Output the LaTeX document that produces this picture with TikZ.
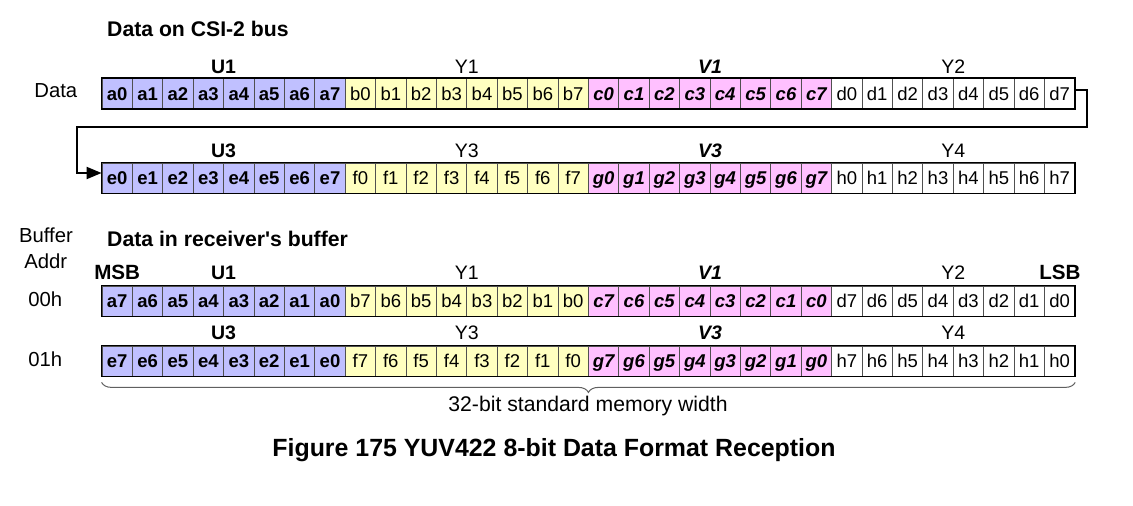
\documentclass[tikz,border=0pt]{standalone}
\usepackage{fontspec}
\setmainfont{Liberation Sans}
\newfontfamily\plainsans{Liberation Sans}
\usetikzlibrary{decorations.pathreplacing,arrows.meta,calc}
\definecolor{cU}{HTML}{C0C0FF}
\definecolor{cY}{HTML}{FFFFC0}
\definecolor{cV}{HTML}{FFC0FF}
\definecolor{cdiv}{HTML}{505050}
\definecolor{cbrace}{HTML}{606060}
\newcommand\csz{\fontsize{18.5}{20}\selectfont}
\newcommand\lsz{\fontsize{19.5}{22}\selectfont}
\tikzset{
  cell/.style={draw=cdiv, line width=0.8pt, minimum width=30.4pt, minimum height=30pt,
    inner sep=0pt, text height=13pt, text depth=0pt, anchor=center},
  grpU/.style={fill=cU, font=\csz\bfseries},
  grpY/.style={fill=cY, font=\csz},
  grpV/.style={fill=cV, font=\csz\bfseries\itshape},
  grpW/.style={fill=white, font=\csz},
  frame/.style={draw=black, line width=1.6pt},
  lbl/.style={inner sep=0pt, anchor=base},
  hdr/.style={inner sep=0pt, anchor=base west, font=\plainsans\fontsize{21.2}{23}\selectfont\bfseries},
  side/.style={inner sep=0pt, anchor=base, font=\fontsize{20.3}{22}\selectfont},
  labU/.style={lbl, font=\lsz\bfseries},
  labY/.style={lbl, font=\lsz},
  labV/.style={lbl, font=\lsz\bfseries\itshape},
  labE/.style={lbl, font=\fontsize{20.6}{22}\selectfont\bfseries},
  arrowline/.style={draw=black, line width=2pt, -{Triangle[length=15pt,width=12pt]}},
}
% #1 name, #2 y centre, #3..#6 letters, #7 reversed (1) or not (0)
\newcommand\mkrow[7]{%
  \foreach \g/\L/\sty in {0/#3/grpU,1/#4/grpY,2/#5/grpV,3/#6/grpW} {
    \foreach \k in {0,...,7} {
      \pgfmathtruncatemacro\idx{\g*8+\k}
      \pgfmathtruncatemacro\bit{#7==1 ? 7-\k : \k}
      \node[cell,\sty] (#1\idx) at ({117.2+30.4*\idx},#2) {\L\bit};
    }
  }
  \draw[frame] (#10.north west) rectangle (#131.south east);
}
% group labels: #1 baseline y, #2 U, #3 Y, #4 V, #5 Y, #6 prefix
\newcommand\mklabels[6]{%
  \node[labU] (#6U) at (223.6,#1) {#2};
  \node[labY] (#6Y) at (466.8,#1) {#3};
  \node[labV] (#6V) at (710.0,#1) {#4};
  \node[labY] (#6Z) at (953.2,#1) {#5};
}
\begin{document}
\begin{tikzpicture}[x=1pt,y=-1pt]
\useasboundingbox (0,0) rectangle (1133,506);
\fill[white] (0,0) rectangle (1133,506);

% headers
\node[hdr] (h1) at (107,36.7) {Data on CSI-2 bus};
\node[hdr] (h2) at (107,246.7) {Data in receiver's buffer};

% side labels
\node[side] (sData) at (55.8,97.3) {Data};
\node[side] (sBuf) at (46,242.7) {Buffer};
\node[side] (sAddr) at (45.8,268.3) {Addr};
\node[side] (s00) at (45.3,306.7) {00h};
\node[side] (s01) at (45.3,366.7) {01h};

% rows
\mkrow{A}{93.5}{a}{b}{c}{d}{0}
\mkrow{B}{178}{e}{f}{g}{h}{0}
\mkrow{C}{301}{a}{b}{c}{d}{1}
\mkrow{D}{361}{e}{f}{g}{h}{1}

% group labels
\mklabels{73.5}{U1}{Y1}{V1}{Y2}{LA}
\mklabels{157}{U3}{Y3}{V3}{Y4}{LB}
\mklabels{279.5}{U1}{Y1}{V1}{Y2}{LC}
\mklabels{339.3}{U3}{Y3}{V3}{Y4}{LD}
\node[labE] (msb) at (117.2,279.5) {MSB};
\node[labE] (lsb) at (1060,279.5) {LSB};

% wrap-around arrow
\coordinate (turnR) at (1087,127);
\coordinate (turnL) at (77,127);
\draw[arrowline] ($(A31.east)+(0,-4)$) -| (turnR) -- (turnL) |- ($(B0.west)+(0,-5)$);

% brace
\draw[draw=cbrace, line width=1pt, decorate, decoration={brace, mirror, amplitude=10pt}]
  ($(D0.south west)+(0,6)$) -- ($(D31.south east)+(0,6)$);
\node[lbl, font=\fontsize{21.2}{23}\selectfont] (bw) at (588,411.7) {32-bit standard memory width};

% caption
\node[lbl, font=\fontsize{24.9}{28}\selectfont\bfseries] (cap) at (554,456.7) {Figure 175 YUV422 8-bit Data Format Reception};
\end{tikzpicture}
\end{document}
